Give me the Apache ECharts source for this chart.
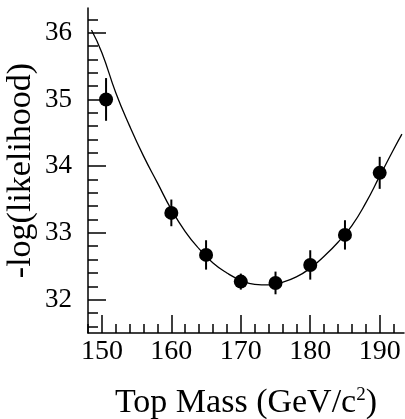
<!DOCTYPE html>
<html>
<head>
<meta charset="utf-8">
<script src="https://cdn.jsdelivr.net/npm/echarts@6/dist/echarts.min.js"></script>
<style>
  html, body { margin: 0; padding: 0; background: #fff; }
  #chart { width: 405px; height: 419px; }
</style>
</head>
<body>
<div id="chart"></div>
<script>
// measured points with errors
const massX = [150.6, 160, 165, 170, 175, 180, 185, 190];
const nllY = [35.0, 33.3, 32.67, 32.27, 32.25, 32.52, 32.97, 33.9];
const nllErr = [0.32, 0.2, 0.22, 0.12, 0.17, 0.22, 0.22, 0.24];

// fitted curve
const curveX = [148.5, 150, 152, 154, 156, 158, 160, 162, 164, 166, 168, 170,
  172, 174, 176, 178, 180, 182, 184, 186, 188, 190, 192, 193.2];
const curveY = [36.04, 35.7, 35.1, 34.6, 34.15, 33.75, 33.35, 33.02, 32.76, 32.55, 32.4, 32.29,
  32.23, 32.22, 32.26, 32.34, 32.47, 32.65, 32.86, 33.11, 33.45, 33.85, 34.25, 34.48];

// ticks
const xMajor = [150, 160, 170, 180, 190];
const xMinor = [148, 150, 152, 154, 156, 158, 160, 162, 164, 166, 168, 170,
  172, 174, 176, 178, 180, 182, 184, 186, 188, 190, 192];
const yMajor = [32, 33, 34, 35, 36];
const yMinor = [31.6, 31.8, 32, 32.2, 32.4, 32.6, 32.8, 33, 33.2, 33.4, 33.6, 33.8,
  34, 34.2, 34.4, 34.6, 34.8, 35, 35.2, 35.4, 35.6, 35.8, 36, 36.2];

const font = 'Liberation Serif';
const black = '#000';

let chart = echarts.init(document.getElementById('chart'));

let option = {
  animation: false,
  backgroundColor: '#fff',
  grid: { left: 88, top: 8, right: 1, bottom: 86, containLabel: false, outerBoundsMode: 'none' },
  xAxis: [
    {
      type: 'value', min: 148, max: 193.5, position: 'bottom',
      axisLine: { show: true, lineStyle: { color: black, width: 1.5 } },
      axisTick: { show: true, inside: true, length: 18, customValues: xMajor, lineStyle: { color: black, width: 1.5 } },
      axisLabel: { customValues: xMajor, color: black, fontFamily: font, fontSize: 28, margin: 5 },
      splitLine: { show: false },
      name: '{t|Top Mass (GeV/c}{s|2}{t|)}',
      nameLocation: 'middle',
      nameGap: 53,
      nameTextStyle: {
        rich: {
          t: { fontFamily: font, fontSize: 34, color: black, verticalAlign: 'bottom' },
          s: { fontFamily: font, fontSize: 19, color: black, verticalAlign: 'top' }
        }
      }
    },
    {
      type: 'value', min: 148, max: 193.5, position: 'bottom',
      axisLine: { show: false },
      axisTick: { show: true, inside: true, length: 9, customValues: xMinor, lineStyle: { color: black, width: 1.5 } },
      axisLabel: { show: false },
      splitLine: { show: false }
    }
  ],
  yAxis: [
    {
      type: 'value', min: 31.5, max: 36.37, position: 'left',
      axisLine: { show: true, lineStyle: { color: black, width: 1.5 } },
      axisTick: { show: true, inside: true, length: 18, customValues: yMajor, lineStyle: { color: black, width: 1.5 } },
      axisLabel: { customValues: yMajor, color: black, fontFamily: font, fontSize: 27, margin: 16 },
      splitLine: { show: false },
      name: '-log(likelihood)',
      nameLocation: 'middle',
      nameGap: 50,
      nameMoveOverlap: false,
      nameTextStyle: { fontFamily: font, fontSize: 34, color: black }
    },
    {
      type: 'value', min: 31.5, max: 36.37, position: 'left',
      axisLine: { show: false },
      axisTick: { show: true, inside: true, length: 10, customValues: yMinor, lineStyle: { color: black, width: 1.5 } },
      axisLabel: { show: false },
      splitLine: { show: false }
    }
  ],
  series: [
    {
      type: 'line',
      data: curveX.map((x, i) => [x, curveY[i]]),
      smooth: true,
      showSymbol: false,
      lineStyle: { color: black, width: 1.3 },
      z: 2
    },
    {
      type: 'custom',
      data: massX.map((x, i) => [x, nllY[i], nllErr[i]]),
      renderItem: function (params, api) {
        let x = api.value(0), y = api.value(1), e = api.value(2);
        let p1 = api.coord([x, y + e]);
        let p2 = api.coord([x, y - e]);
        return {
          type: 'line',
          shape: { x1: p1[0], y1: p1[1], x2: p2[0], y2: p2[1] },
          style: { stroke: black, lineWidth: 2 }
        };
      },
      z: 3
    },
    {
      type: 'scatter',
      data: massX.map((x, i) => [x, nllY[i]]),
      symbol: 'circle',
      symbolSize: 14,
      itemStyle: { color: black, opacity: 1 },
      z: 4
    }
  ]
};

chart.setOption(option);
</script>
</body>
</html>
